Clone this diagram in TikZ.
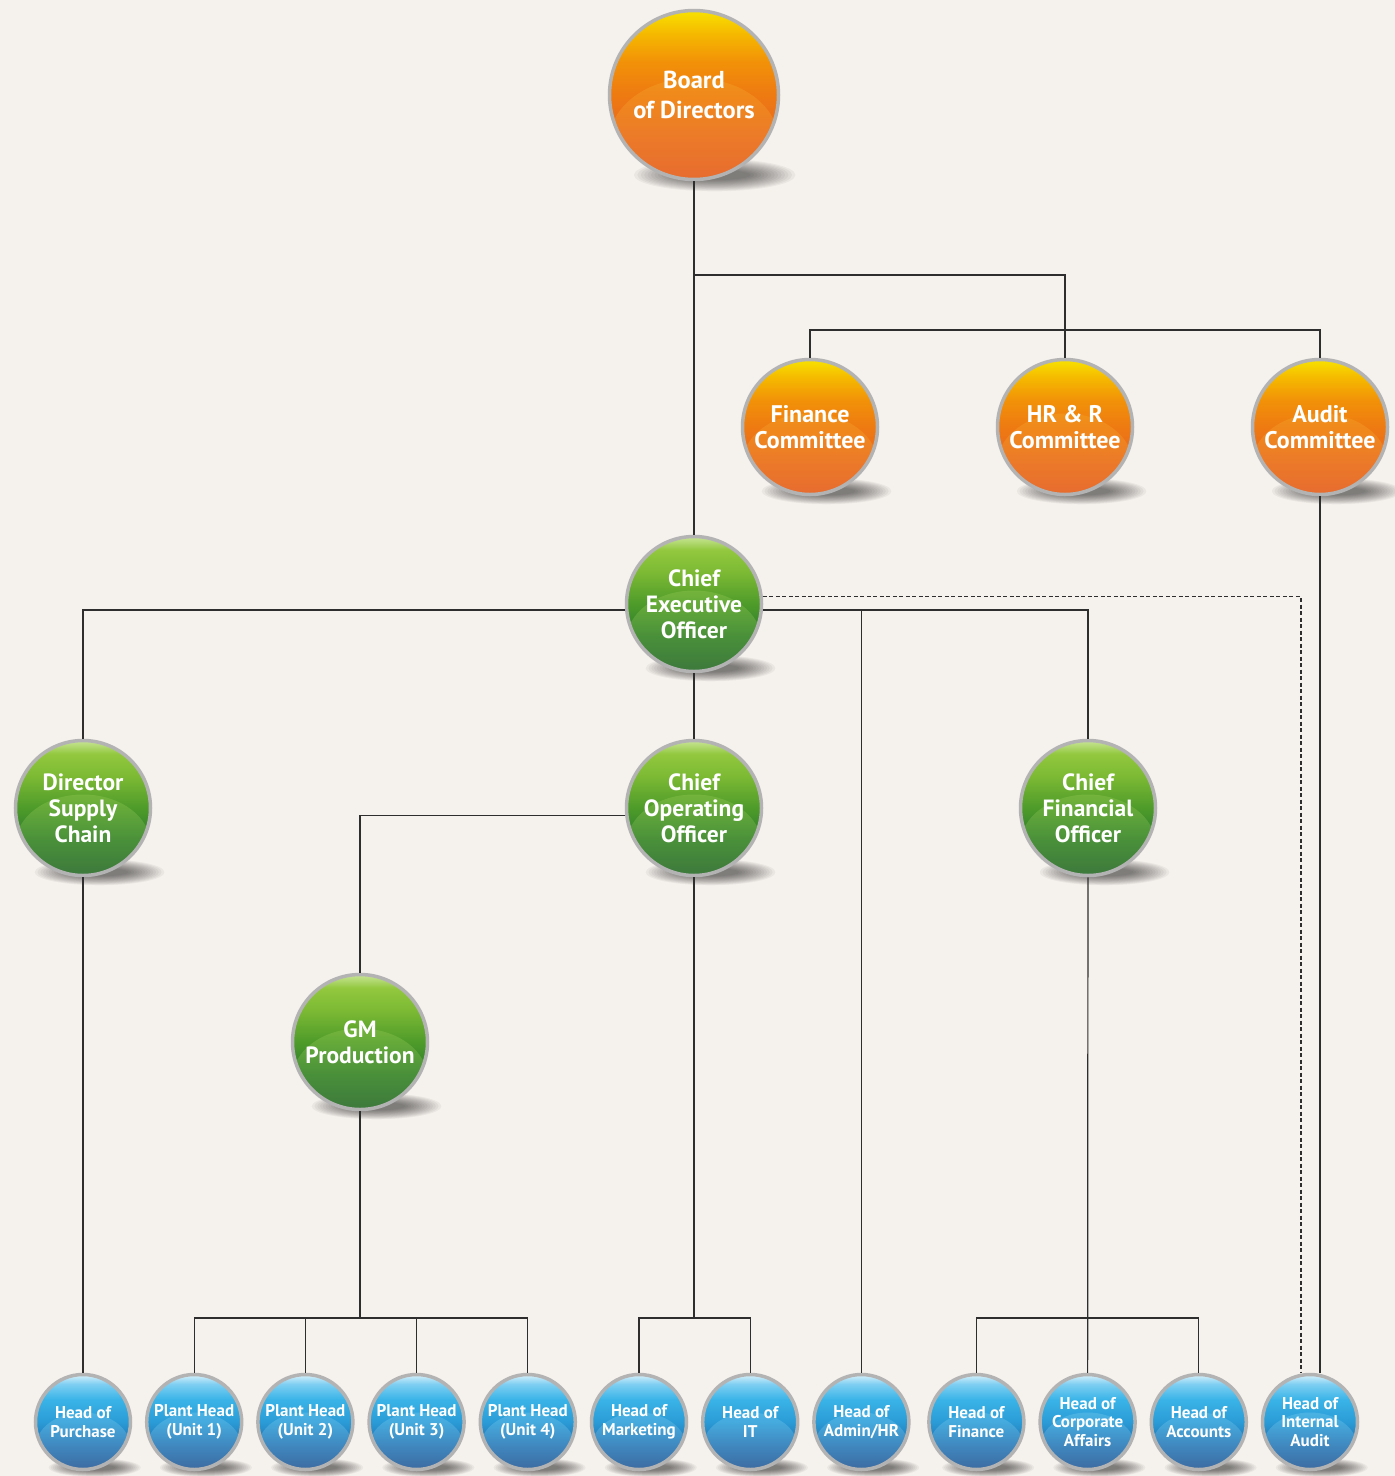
\documentclass[tikz,border=0pt]{standalone}
\usepackage{fontspec}
\setmainfont{PT Sans}
\usetikzlibrary{positioning}

\pgfdeclarelayer{background}
\pgfdeclarelayer{shadowlayer}
\pgfsetlayers{background,shadowlayer,main}

\definecolor{bgcream}{HTML}{F5F1ED}
\definecolor{ringgray}{HTML}{B3B3B3}
\definecolor{linegray}{HTML}{2E2E2E}
\definecolor{orggloss}{HTML}{F8C040}
\definecolor{grngloss}{HTML}{B8E070}
\definecolor{blugloss}{HTML}{A8E2FA}

% ball shadings, bottom to top
\pgfdeclareverticalshading{orangeshade}{100bp}{
    color(0bp)=(rgb,255:red,226;green,84;blue,42);
    color(25bp)=(rgb,255:red,226;green,84;blue,42);
    color(36bp)=(rgb,255:red,232;green,101;blue,36);
    color(50bp)=(rgb,255:red,238;green,122;blue,18);
    color(60bp)=(rgb,255:red,242;green,146;blue,8);
    color(68bp)=(rgb,255:red,245;green,184;blue,0);
    color(75bp)=(rgb,255:red,248;green,226;blue,0);
    color(100bp)=(rgb,255:red,248;green,226;blue,0)}
\pgfdeclareverticalshading{greenshade}{100bp}{
    color(0bp)=(rgb,255:red,26;green,92;blue,46);
    color(25bp)=(rgb,255:red,26;green,92;blue,46);
    color(38bp)=(rgb,255:red,43;green,122;blue,44);
    color(50bp)=(rgb,255:red,78;green,155;blue,42);
    color(62bp)=(rgb,255:red,125;green,186;blue,52);
    color(70bp)=(rgb,255:red,146;green,200;blue,62);
    color(75bp)=(rgb,255:red,200;green,228;blue,150);
    color(100bp)=(rgb,255:red,200;green,228;blue,150)}
\pgfdeclareverticalshading{blueshade}{100bp}{
    color(0bp)=(rgb,255:red,30;green,74;blue,136);
    color(25bp)=(rgb,255:red,30;green,74;blue,136);
    color(38bp)=(rgb,255:red,35;green,112;blue,176);
    color(50bp)=(rgb,255:red,42;green,155;blue,214);
    color(62bp)=(rgb,255:red,58;green,180;blue,232);
    color(70bp)=(rgb,255:red,127;green,207;blue,242);
    color(75bp)=(rgb,255:red,216;green,241;blue,252);
    color(100bp)=(rgb,255:red,216;green,241;blue,252)}

\tikzset{
    gloss/.store in=\glosscolor,
    gloss=white,
    ball/.style={
        circle,
        minimum size=#1,
        inner sep=0pt,
        draw=ringgray,
        line width=3.5pt,
        text=white,
        align=center,
        path picture={
            \fill[\glosscolor, opacity=.22]
                ([yshift=-0.27*#1]path picture bounding box.center)
                ellipse [x radius=0.5*#1, y radius=0.37*#1];
        }
    },
    bigball/.style={
        ball=169pt,
        shading=orangeshade, gloss=orggloss,
        font=\fontsize{24.5}{30}\selectfont\bfseries
    },
    orangeball/.style={
        ball=135pt,
        shading=orangeshade, gloss=orggloss,
        font=\fontsize{24}{25.5}\selectfont\bfseries
    },
    greenball/.style={
        ball=135pt,
        shading=greenshade, gloss=grngloss,
        font=\fontsize{23.5}{26}\selectfont\bfseries
    },
    blueball/.style={
        ball=95pt,
        shading=blueshade, gloss=blugloss,
        font=\fontsize{17}{18.5}\selectfont\bfseries
    },
    ballshadow/.style={fill=black, opacity=0.045},
    link/.style={draw=linegray, line width=1.2pt},
    dottedlink/.style={link, dash pattern=on 4pt off 2.5pt}
}

\begin{document}
\begin{tikzpicture}[x=1pt, y=-1pt]

\useasboundingbox (0,0) rectangle (1395,1476);
\begin{pgfonlayer}{background}
\fill[bgcream] (0,0) rectangle (1395,1476);
\end{pgfonlayer}

% Board and committees
\node[bigball] (board) at (694,95) {Board\\of Directors};
\node[orangeball] (fin) at (810,427) {Finance\\Committee};
\node[orangeball] (hr) at (1065,427) {HR \& R\\Committee};
\node[orangeball] (audit) at (1320,427) {Audit\\Committee};

% Management
\node[greenball] (ceo) at (694,604) {Chief\\Executive\\Officer};
\node[greenball] (dsc) at (83,808) {Director\\Supply\\Chain};
\node[greenball] (coo) at (694,808) {Chief\\Operating\\Officer};
\node[greenball] (cfo) at (1088,808) {Chief\\Financial\\Officer};
\node[greenball] (gm) at (360,1042) {GM\\Production};

% Heads
\node[blueball] (purchase) at (83,1422) {Head of\\Purchase};
\node[blueball, right=12.7pt of purchase] (unit1) {Plant Head\\(Unit 1)};
\node[blueball, right=12.7pt of unit1] (unit2) {Plant Head\\(Unit 2)};
\node[blueball, right=12.7pt of unit2] (unit3) {Plant Head\\(Unit 3)};
\node[blueball, right=12.7pt of unit3] (unit4) {Plant Head\\(Unit 4)};
\node[blueball, right=12.7pt of unit4] (mkt) {Head of\\Marketing};
\node[blueball, right=12.7pt of mkt] (it) {Head of\\IT};
\node[blueball, right=12.7pt of it] (admin) {Head of\\Admin/HR};
\node[blueball, right=16.5pt of admin] (hfin) {Head of\\Finance};
\node[blueball, right=12.7pt of hfin] (corp) {Head of\\Corporate\\Affairs};
\node[blueball, right=12.7pt of corp] (acc) {Head of\\Accounts};
\node[blueball, right=12.7pt of acc] (intaudit) {Head of\\Internal\\Audit};

% shadows under the balls
\begin{pgfonlayer}{shadowlayer}
\foreach \n/\r in {board/86, fin/69, hr/69, audit/69, ceo/69, dsc/69,
        coo/69, cfo/69, gm/69, purchase/49, unit1/49, unit2/49, unit3/49,
        unit4/49, mkt/49, it/49, admin/49, hfin/49, corp/49, acc/49,
        intaudit/49}
    \foreach \k in {1,...,14}
        \fill[ballshadow] ([xshift=0.24*\r*1pt, yshift=-0.93*\r*1pt]\n.center)
            ellipse [x radius={(0.38+0.04*\k)*\r*1pt},
                     y radius={(0.05+0.01*\k)*\r*1pt}];
\end{pgfonlayer}

\coordinate (split) at (694,275);
\coordinate (combar) at (1065,330);
\coordinate (gmbar) at (360,1318);
\coordinate (coobar) at (coo |- gmbar);
\coordinate (cfobar) at (cfo |- gmbar);

% Board lines
\draw[link] (board) -- (ceo);
\draw[link] (split) -| (hr.north);
\draw[link] (fin.north) |- (combar) -| (audit.north);
\draw[link] (audit.south) -- (audit.south |- intaudit.north);

% CEO lines
\draw[link] (ceo.185) -| (dsc.north);
\draw[link] (ceo.355) -| (cfo.north);
\draw[link] (admin.north) -- (admin.north |- ceo.355);
\draw[link] (ceo) -- (coo);
\draw[dottedlink] (ceo.6) -| ([xshift=-9pt]intaudit.north);

% Lower lines
\draw[link] (dsc) -- (purchase);
\draw[link] (coo.186) -| (gm.north);
\draw[link] (gm) -- (gmbar);
\draw[link] (unit1.north) |- (gmbar) -| (unit4.north);
\draw[link] (unit2.north) -- (unit2.north |- gmbar);
\draw[link] (unit3.north) -- (unit3.north |- gmbar);
\draw[link] (coo) -- (coobar);
\draw[link] (mkt.north) |- (coobar) -| (it.north);
\draw[link] (cfo) -- (corp);
\draw[link] (hfin.north) |- (cfobar) -| (acc.north);

\end{tikzpicture}
\end{document}
